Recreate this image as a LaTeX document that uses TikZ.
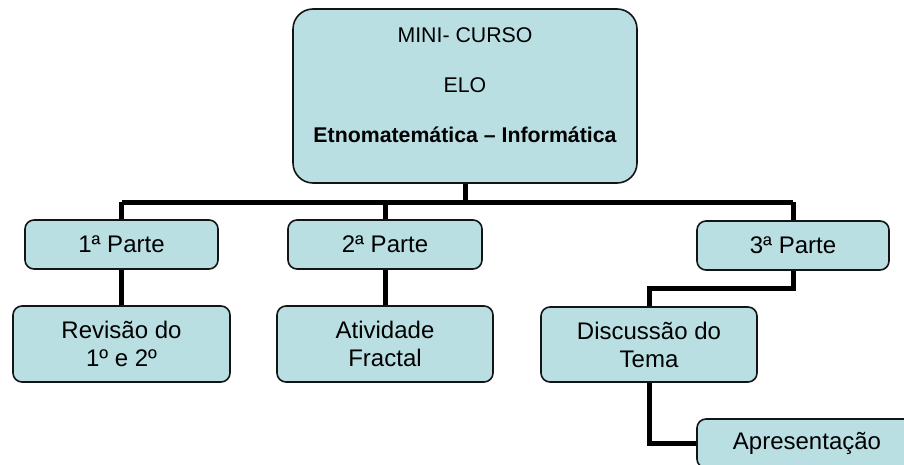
\documentclass[tikz,border=0pt]{standalone}
\usepackage{fontspec}
\setmainfont{Liberation Sans}
\definecolor{boxfill}{RGB}{185,223,227}
\definecolor{boxline}{RGB}{20,20,20}
\tikzset{
  box/.style={draw=boxline, line width=1.6pt, fill=boxfill, rounded corners=9pt,
    align=center, inner sep=0pt, font=\fontsize{24}{28}\selectfont, text=black},
  conn/.style={draw=black, line width=5pt}
}
\begin{document}
\begin{tikzpicture}[x=1pt,y=-1pt]
\useasboundingbox (0,0) rectangle (904,465);
\clip (0,0) rectangle (904,465);
\node[box, rounded corners=20pt, minimum width=344pt, minimum height=174pt,
  font=\fontsize{21.3}{25}\selectfont] (top) at (465,96) {};
\node[font=\fontsize{21.3}{25}\selectfont, anchor=base] (t1) at (465,43) {MINI- CURSO};
\node[font=\fontsize{21.3}{25}\selectfont, anchor=base] (t2) at (465,93) {ELO};
\node[font=\bfseries\fontsize{21.3}{25}\selectfont, anchor=base] (t3) at (465,143) {Etnomatemática – Informática};

\node[box, minimum width=193pt, minimum height=49pt] (p1) at (121.5,244.5) {1ª Parte};
\node[box, minimum width=194pt, minimum height=49pt] (p2) at (385,244.5) {2ª Parte};
\node[box, minimum width=192pt, minimum height=49pt] (p3) at (793,245.5) {3ª Parte};

\node[box, minimum width=217pt, minimum height=76pt] (r) at (121.5,344) {Revisão do\\1º e 2º};
\node[box, minimum width=216pt, minimum height=76pt] (a) at (385,344) {Atividade\\Fractal};
\node[box, minimum width=216pt, minimum height=75pt] (d) at (649,344.5) {Discussão do\\Tema};
\node[box, minimum width=220pt, minimum height=49pt] (ap) at (807,443.5) {Apresentação};

\coordinate (hl) at (122,202);
\coordinate (hr) at (793,202);
\draw[conn] (top.south) -- (top.south |- hl);
\draw[conn] (p1.north |- hl) -- (hr |- hl);
\draw[conn] (p1.north |- hl) -- (p1.north);
\draw[conn] (p2.north |- hl) -- (p2.north);
\draw[conn] (hr) -- (p3.north);
\draw[conn] (p1.south) -- (r.north);
\draw[conn] (p2.south) -- (a.north);
\draw[conn] (p3.south) -- ++(0,18) -| (d.north);
\draw[conn] (d.south) |- (ap.west);
\end{tikzpicture}
\end{document}
